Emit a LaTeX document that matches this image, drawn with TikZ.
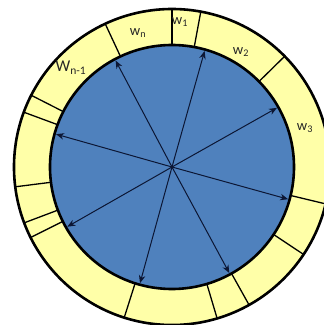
\documentclass[tikz,border=0pt]{standalone}
\usepackage{fontspec}
\setmainfont{Carlito}
\usetikzlibrary{arrows.meta}
\definecolor{ringyellow}{RGB}{255,255,168}
\definecolor{diskblue}{RGB}{79,129,189}
\definecolor{arrowcol}{RGB}{12,22,52}
\tikzset{
  ringline/.style={line width=2.6pt, draw=black},
  divider/.style={line width=1.3pt, draw=black},
  ray/.style={line width=1pt, draw=arrowcol, -{Stealth[length=8pt,width=6.5pt]}},
  wlabel/.style={inner sep=0pt, font=\fontsize{14.5}{16}\selectfont, text=black!85}
}
\begin{document}
\begin{tikzpicture}[x=1pt,y=1pt]
\useasboundingbox (-172,-158) rectangle (152,167);
\clip (-172,-158) rectangle (152,167);
\coordinate (c) at (0,0);
% ring
\fill[ringyellow] (c) circle[radius=158];
\draw[ringline] (c) circle[radius=158];
% dividers
\foreach \a in {90,79.5,44.5,-13.5,-33.6,-60.8,-73.4,252.4,206.5,200.7,187.2,159.7,153,115}{
  \draw[divider] (\a:122) -- (\a:158);
}
% disk
\fill[diskblue] (c) circle[radius=122];
\draw[ringline] (c) circle[radius=122];
% rays
\foreach \a [count=\i] in {74.3,29.4,-15.5,-61.6,-105.4,-150.3,164.2,117.9}{
  \coordinate (e\i) at (\a:120.5);
  \draw[ray] (c) -- (e\i);
}
\fill[arrowcol] (c) circle[radius=1.6];
% labels
\node[wlabel] (ln) at (-34,134) {w\textsubscript{n}};
\node[wlabel] (l1) at (8,145) {w\textsubscript{1}};
\node[wlabel] (l2) at (69,115) {w\textsubscript{2}};
\node[wlabel] (l3) at (133,39) {w\textsubscript{3}};
\node[wlabel, font=\fontsize{16.5}{18}\selectfont] (lm) at (-101,99) {W\textsubscript{n-1}};
\end{tikzpicture}
\end{document}
